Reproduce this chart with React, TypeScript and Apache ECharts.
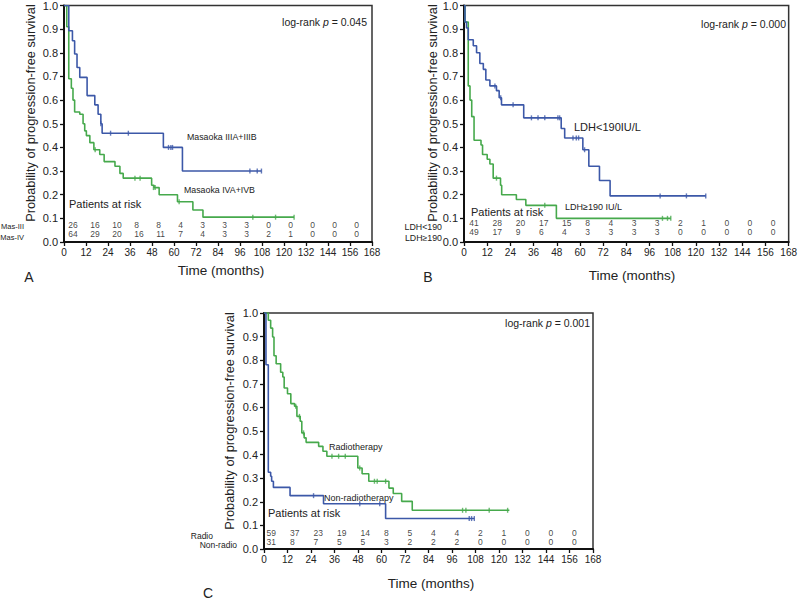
import React, { useEffect, useRef } from "react";
import * as echarts from "echarts";

const FONT = "'Liberation Sans', Arial, Helvetica, sans-serif";
const BLUE = "#3c58a8";
const GREEN = "#46a94c";
const INK = "#222";

// Panel A: Masaoka stage
const aBlueT = [0, 2.6, 4.6, 5.8, 7.1, 8.6, 12.6, 16.8, 18.6, 20.1, 20.8, 54.2, 64.6, 107.7];
const aBlueS = [1, 0.893, 0.851, 0.795, 0.738, 0.696, 0.619, 0.58, 0.54, 0.5, 0.46, 0.4, 0.3, 0.3];
const aBlueCensT = [20.1, 25.4, 35.1, 57.0, 58.3, 59.2, 101.4, 105.4, 107.7];
const aBlueCensS = [0.5, 0.46, 0.46, 0.4, 0.4, 0.4, 0.3, 0.3, 0.3];
const aGreenT = [0, 1.5, 2.6, 4.0, 4.9, 5.8, 8.6, 10.4, 11.3, 12.2, 14.1, 16.3, 19.5, 21.9, 27.8, 30.5, 32.3, 47.8, 49.1, 51.9, 61.9, 70.3, 75.8, 125.5];
const aGreenS = [1, 0.91, 0.69, 0.65, 0.6, 0.55, 0.54, 0.5, 0.47, 0.45, 0.42, 0.39, 0.37, 0.34, 0.32, 0.29, 0.27, 0.24, 0.23, 0.2, 0.17, 0.135, 0.105, 0.105];
const aGreenCensT = [17, 38.7, 41.5, 48.8, 49.7, 62.8, 103, 115.4, 125.5];
const aGreenCensS = [0.39, 0.27, 0.27, 0.23, 0.23, 0.17, 0.105, 0.105, 0.105];

// Panel B: LDH
const bBlueT = [0, 0.5, 1.3, 2.2, 4.8, 6.5, 8.2, 10.0, 11.3, 13.4, 16.8, 18.2, 19.4, 30.9, 50.3, 52.1, 61.5, 64.6, 70.1, 75.6, 125.1];
const bBlueS = [1, 0.93, 0.905, 0.855, 0.83, 0.8, 0.755, 0.73, 0.685, 0.66, 0.64, 0.61, 0.58, 0.525, 0.48, 0.44, 0.39, 0.32, 0.26, 0.195, 0.195];
const bBlueCensT = [16.0, 19.0, 25.4, 34.9, 38.3, 41.8, 48.6, 49.5, 56.4, 58.1, 59.3, 62.4, 101.5, 115.1, 125.1];
const bBlueCensS = [0.66, 0.61, 0.58, 0.525, 0.525, 0.525, 0.525, 0.525, 0.44, 0.44, 0.44, 0.39, 0.195, 0.195, 0.195];
const bGreenT = [0, 0.5, 2.2, 3.1, 4.0, 5.2, 8.8, 9.6, 12.0, 13.4, 15.1, 18.9, 19.5, 27.1, 32.0, 47.8, 107];
const bGreenS = [1, 0.93, 0.66, 0.6, 0.53, 0.43, 0.41, 0.37, 0.35, 0.33, 0.27, 0.24, 0.2, 0.18, 0.155, 0.1, 0.1];
const bGreenCensT = [16.8, 41.8, 102.7, 105.3, 107];
const bGreenCensS = [0.27, 0.155, 0.1, 0.1, 0.1];

// Panel C: radiotherapy
const cGreenT = [0, 2.2, 3.4, 4.4, 5.1, 6.2, 8.5, 9.6, 10.3, 12.0, 13.7, 15.6, 16.8, 18.5, 19.3, 20.5, 21.5, 27.9, 30.1, 32.1, 47.9, 50.1, 53.5, 63.8, 66.0, 70.3, 75.7, 125.3];
const cGreenS = [1, 0.969, 0.936, 0.898, 0.819, 0.785, 0.749, 0.729, 0.682, 0.658, 0.616, 0.605, 0.562, 0.541, 0.492, 0.471, 0.452, 0.435, 0.414, 0.393, 0.343, 0.319, 0.287, 0.258, 0.235, 0.202, 0.164, 0.164];
const cGreenCensT = [16.2, 18.1, 20.2, 34.7, 38.1, 41.5, 48.9, 56.4, 57.8, 62.1, 101.4, 103.1, 115, 124.4];
const cGreenCensS = [0.605, 0.562, 0.492, 0.393, 0.393, 0.393, 0.343, 0.287, 0.287, 0.287, 0.164, 0.164, 0.164, 0.164];
const cBlueT = [0, 1.0, 2.2, 3.4, 3.9, 4.8, 13.3, 30.4, 62.1, 107.4];
const cBlueS = [1, 0.781, 0.325, 0.308, 0.287, 0.261, 0.226, 0.192, 0.129, 0.129];
const cBlueCensT = [25.3, 48.9, 59.1, 104.8, 106, 107.4];
const cBlueCensS = [0.226, 0.192, 0.192, 0.129, 0.129, 0.129];

// Numbers at risk
const riskTimes = [0, 12, 24, 36, 48, 60, 72, 84, 96, 108, 120, 132, 144, 156];
const aRisk1 = [26, 16, 10, 8, 8, 4, 3, 3, 3, 0, 0, 0, 0, 0];
const aRisk2 = [64, 29, 20, 16, 11, 7, 4, 3, 3, 2, 1, 0, 0, 0];
const bRisk1 = [41, 28, 20, 17, 15, 8, 4, 3, 3, 2, 1, 0, 0, 0];
const bRisk2 = [49, 17, 9, 6, 4, 3, 3, 3, 3, 0, 0, 0, 0, 0];
const cRisk1 = [59, 37, 23, 19, 14, 8, 5, 4, 4, 2, 1, 0, 0, 0];
const cRisk2 = [31, 8, 7, 5, 5, 3, 2, 2, 2, 0, 0, 0, 0, 0];

const yTitle = "Probability of progression-free survival";
const xTitle = "Time (months)";

const zip = (t: number[], s: number[]) => t.map((x, i) => [x, s[i]]);

function kmSeries(idx: number, t: number[], s: number[], color: string) {
  return {
    type: "line",
    xAxisIndex: idx,
    yAxisIndex: idx,
    step: "end",
    symbol: "none",
    data: zip(t, s),
    lineStyle: { color, width: 1.6 },
    silent: true,
    z: 3,
  };
}
function censorSeries(idx: number, t: number[], s: number[], color: string) {
  return {
    type: "scatter",
    xAxisIndex: idx,
    yAxisIndex: idx,
    symbol: "rect",
    symbolSize: [1.4, 5],
    data: zip(t, s),
    itemStyle: { color },
    silent: true,
    z: 4,
  };
}
function riskSeries(idx: number, counts: number[], yPos: number, xOff: number) {
  return {
    type: "scatter",
    xAxisIndex: idx,
    yAxisIndex: idx,
    symbolSize: 1,
    itemStyle: { color: "rgba(0,0,0,0)" },
    data: counts.map((c, i) => [riskTimes[i] + xOff, yPos, c]),
    label: {
      show: true,
      position: "right",
      distance: 0,
      formatter: (p: any) => String(p.value[2]),
      fontFamily: FONT,
      fontSize: 8.5,
      lineHeight: 7,
      color: "#111",
      align: "left",
      verticalAlign: "middle",
    },
    labelLayout: { hideOverlap: false },
    silent: true,
    z: 5,
  };
}

function txt(x: number, y: number, text: string, fontSize: number, align = "left", extra: any = {}) {
  return {
    type: "text",
    x,
    y,
    silent: true,
    ...extra,
    style: {
      text,
      fontSize,
      fontFamily: FONT,
      fill: INK,
      align,
      verticalAlign: "middle",
      ...(extra.style || {}),
    },
  };
}
function logRank(x: number, y: number, pval: string) {
  return {
    type: "text",
    x,
    y,
    silent: true,
    style: {
      text: `{a|log-rank }{b|p}{a| = ${pval}}`,
      align: "right",
      verticalAlign: "middle",
      rich: {
        a: { fontSize: 10.5, fontFamily: FONT, fill: INK, color: INK },
        b: { fontSize: 10.5, fontFamily: FONT, fontStyle: "italic", fill: INK, color: INK },
      },
    },
  };
}

const grids = [
  { left: 64, top: 5, width: 308, height: 237 },
  { left: 464, top: 5, width: 328, height: 237 },
  { left: 264, top: 313, width: 329, height: 236 },
];

export default function App() {
  const ref = useRef<HTMLDivElement>(null);
  useEffect(() => {
    if (!ref.current) return;
    const chart = echarts.init(ref.current, undefined, { renderer: "svg" });
    const axisCommon = {
      axisLine: { show: true, onZero: false, lineStyle: { color: "#111", width: 2 } },
      axisTick: { show: true, inside: false, length: 4, lineStyle: { color: "#111", width: 1.3 } },
      splitLine: { show: false },
    };
    const option: any = {
      animation: false,
      backgroundColor: "#fff",
      grid: grids.map((g) => ({ ...g, show: true, borderColor: "#333", borderWidth: 1.5, backgroundColor: "transparent" })),
      xAxis: grids.map((_, i) => ({
        type: "value",
        gridIndex: i,
        min: 0,
        max: 168,
        interval: 12,
        ...axisCommon,
        axisLabel: { fontSize: 10, fontFamily: FONT, color: INK, margin: 5 },
      })),
      yAxis: grids.map((_, i) => ({
        type: "value",
        gridIndex: i,
        min: 0,
        max: 1,
        interval: 0.1,
        ...axisCommon,
        axisLabel: {
          fontSize: 11,
          fontFamily: FONT,
          color: INK,
          margin: 6,
          formatter: (v: number) => v.toFixed(1),
        },
      })),
      series: [
        kmSeries(0, aGreenT, aGreenS, GREEN),
        kmSeries(0, aBlueT, aBlueS, BLUE),
        censorSeries(0, aGreenCensT, aGreenCensS, GREEN),
        censorSeries(0, aBlueCensT, aBlueCensS, BLUE),
        riskSeries(0, aRisk1, 0.073, 2),
        riskSeries(0, aRisk2, 0.034, 2),

        kmSeries(1, bGreenT, bGreenS, GREEN),
        kmSeries(1, bBlueT, bBlueS, BLUE),
        censorSeries(1, bGreenCensT, bGreenCensS, GREEN),
        censorSeries(1, bBlueCensT, bBlueCensS, BLUE),
        riskSeries(1, bRisk1, 0.08, 2.5),
        riskSeries(1, bRisk2, 0.042, 2.5),

        kmSeries(2, cGreenT, cGreenS, GREEN),
        kmSeries(2, cBlueT, cBlueS, BLUE),
        censorSeries(2, cGreenCensT, cGreenCensS, GREEN),
        censorSeries(2, cBlueCensT, cBlueCensS, BLUE),
        riskSeries(2, cRisk1, 0.067, 1),
        riskSeries(2, cRisk2, 0.029, 1),
      ],
      graphic: [
        // Panel A
        txt(30, 113, yTitle, 12.8, "center", { rotation: Math.PI / 2 }),
        txt(221, 270, xTitle, 13.5, "center"),
        txt(29, 277, "A", 14, "center"),
        logRank(367, 22, "0.045"),
        txt(69, 204, "Patients at risk", 11),
        txt(187, 137, "Masaoka IIIA+IIIB", 8.8),
        txt(184, 190, "Masaoka IVA+IVB", 8.8),
        txt(24, 226, "Mas-III", 7.5, "right", { style: { lineHeight: 8 } }),
        txt(24, 237, "Mas-IV", 7.5, "right", { style: { lineHeight: 8 } }),
        // Panel B
        txt(432, 113, yTitle, 12.8, "center", { rotation: Math.PI / 2 }),
        txt(632, 275, xTitle, 13.5, "center"),
        txt(428, 277, "B", 14, "center"),
        logRank(786, 24, "0.000"),
        txt(471, 212, "Patients at risk", 11),
        txt(574, 127, "LDH<190IU/L", 11),
        txt(565, 207, "LDH≥190 IU/L", 9),
        txt(442, 227, "LDH<190", 8.8, "right", { style: { lineHeight: 9 } }),
        txt(442, 238, "LDH≥190", 8.8, "right", { style: { lineHeight: 9 } }),
        // Panel C
        txt(229, 421, yTitle, 12.8, "center", { rotation: Math.PI / 2 }),
        txt(431, 583, xTitle, 13.5, "center"),
        txt(208, 593, "C", 14, "center"),
        logRank(590, 323, "0.001"),
        txt(268, 513, "Patients at risk", 11),
        txt(329, 447, "Radiotherapy", 9),
        txt(324, 498, "Non-radiotherapy", 9),
        txt(213, 535.5, "Radio", 8.5, "right", { style: { lineHeight: 8 } }),
        txt(237, 545, "Non-radio", 8.5, "right", { style: { lineHeight: 8 } }),
      ],
    };
    chart.setOption(option);
    return () => chart.dispose();
  }, []);
  return (
    <div
      ref={ref}
      style={{ position: "fixed", left: 0, top: 0, width: 800, height: 600, background: "#fff" }}
    />
  );
}
